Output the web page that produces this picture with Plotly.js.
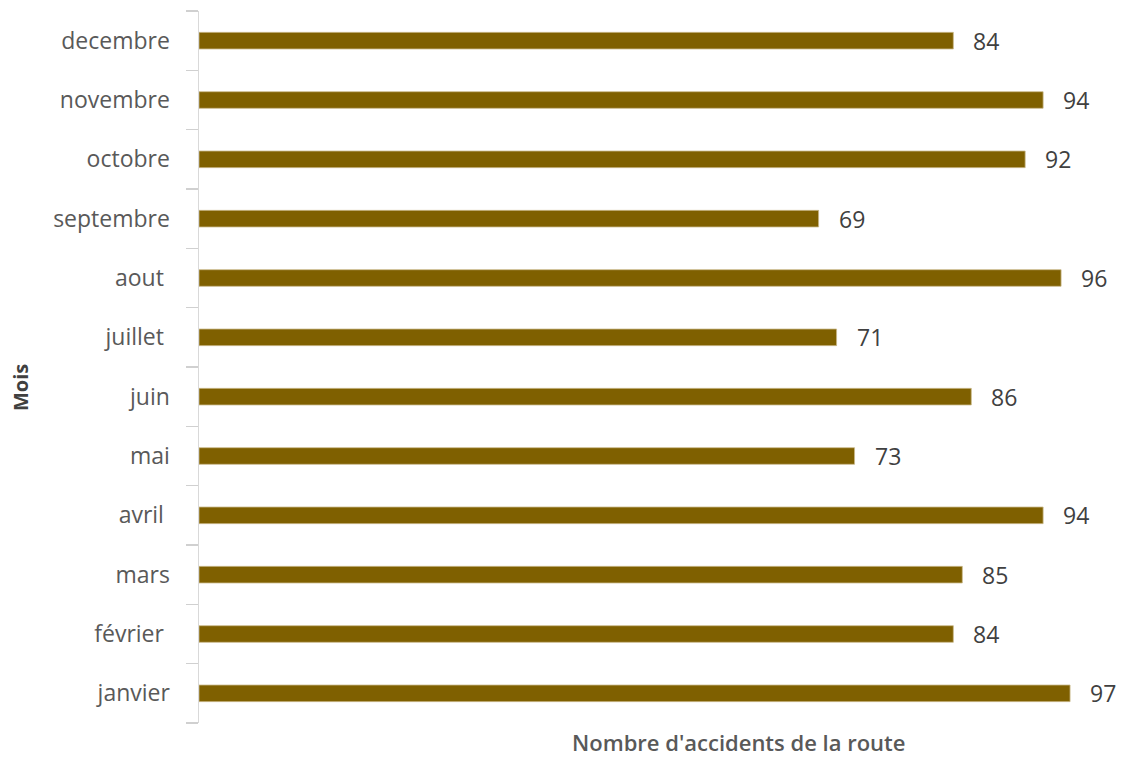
<!DOCTYPE html>
<html><head><meta charset="utf-8">
<script src="https://cdn.plot.ly/plotly-3.0.1.min.js"></script>
<style>html,body{margin:0;padding:0;background:#fff;}#chart{width:1122px;height:758px;}</style>
</head><body><div id="chart"></div>
<script>
const months = ["janvier", "février\u00a0", "mars", "avril\u00a0", "mai", "juin", "juillet\u00a0", "aout\u00a0", "septembre", "octobre", "novembre", "decembre"];
const accidents = [97, 84, 85, 94, 73, 86, 71, 96, 69, 92, 94, 84];
const xTitle = "Nombre d'accidents de la route";
const yTitle = "Mois";

const font = "'Open Sans', 'Noto Sans', sans-serif";
const trace = {
  type: "bar", orientation: "h",
  x: accidents, y: months,
  marker: {color: "#7F6000", line: {color: "#C9B98A", width: 0.8}},
  hoverinfo: "x+y"
};
const annotations = accidents.map((v, i) => ({
  x: v, y: months[i], xref: "x", yref: "y",
  text: String(v), showarrow: false, xanchor: "left", xshift: 18,
  font: {family: font, size: 23, color: "#404040"}
}));
annotations.push({
  xref: "paper", yref: "paper", x: 0.5, y: 0, yshift: -19, xanchor: "center", yanchor: "middle",
  xshift: 90,
  text: xTitle, showarrow: false,
  font: {family: font, size: 22, color: "#595959", weight: 600}
});
annotations.push({
  xref: "paper", yref: "paper", x: 0, xshift: -179, y: 0.5, yshift: -21, yanchor: "middle", xanchor: "center",
  text: yTitle, textangle: -90, showarrow: false,
  font: {family: font, size: 20, color: "#404040", weight: 700}
});

const layout = {
  width: 1122, height: 758,
  margin: {l: 199, r: 25, t: 11, b: 35},
  paper_bgcolor: "#fff", plot_bgcolor: "#fff",
  bargap: 0.72,
  showlegend: false,
  xaxis: {range: [0, 100], showgrid: false, zeroline: false, showticklabels: false, showline: false, ticks: ""},
  yaxis: {
    type: "category", categoryorder: "array", categoryarray: months,
    showline: true, linecolor: "#D9D9D9", linewidth: 1.5,
    ticks: "outside", tickson: "boundaries", ticklen: 12, tickcolor: "#D0D0D0", tickwidth: 1.5,
    showgrid: false, zeroline: false,
    ticklabelstandoff: 23,
    tickfont: {family: font, size: 23, color: "#595959"}
  },
  annotations: annotations
};
Plotly.newPlot("chart", [trace], layout, {displayModeBar: false, staticPlot: true});
</script></body></html>
